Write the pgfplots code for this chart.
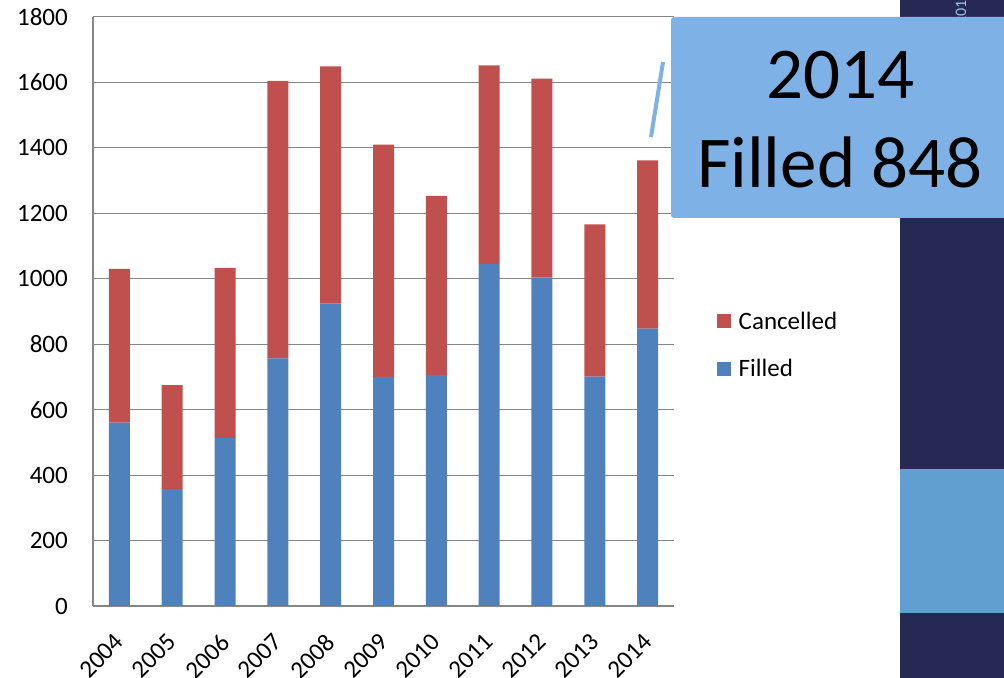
\documentclass[border=0pt]{standalone}
\usepackage{pgfplots}
\pgfplotsset{compat=1.18}
\usepackage{pgfplotstable}
\usepackage{fontspec}
\setmainfont{Carlito}
\definecolor{blueF}{HTML}{4F81BD}
\definecolor{redC}{HTML}{C0504D}
\definecolor{gridgray}{HTML}{868686}
\definecolor{navy}{HTML}{262953}
\definecolor{lblue}{HTML}{629FD1}
\definecolor{callout}{HTML}{7EB1E5}
\definecolor{paneltext}{HTML}{9DC3E6}
\pgfplotstableread{
x filled cancelled
0 560 470
1 357 318
2 513 520
3 757 848
4 925 724
5 700 710
6 706 547
7 1045 607
8 1004 608
9 701 465
10 848 514
}\datatable
\begin{document}
\begin{tikzpicture}[x=1bp,y=1bp]
\path[use as bounding box] (0,0) rectangle (1004,678);
% right decorative panel
\fill[navy] (900,0) rectangle (1004,678);
\fill[lblue] (900,65) rectangle (1004,209);
\node[rotate=90, anchor=base west, text=paneltext, font=\fontsize{16bp}{19bp}\selectfont, inner sep=0pt] at (966,653) {2014};
\begin{axis}[
  at={(93bp,72bp)}, anchor=south west,
  scale only axis, width=581bp, height=589bp,
  ybar stacked, bar width=21bp,
  xmin=-0.5, xmax=10.5, ymin=0, ymax=1800,
  ytick={0,200,...,1800},
  xtick={0,...,10},
  xticklabels={2004,2005,2006,2007,2008,2009,2010,2011,2012,2013,2014},
  axis x line*=bottom, axis y line*=left,
  axis line style={draw=gridgray, line width=1.2bp},
  ymajorgrids, grid style={draw=gridgray, line width=1bp},
  tick style={draw=none},
  /pgf/number format/1000 sep={},
  /pgf/number format/assume math mode=true,
  every tick label/.append style={font=\fontsize{25bp}{30bp}\selectfont},
  yticklabel style={anchor=east, inner sep=0pt, xshift=-25bp},
  xticklabel style={xshift=-6bp, yshift=-26bp, rotate=45, anchor=north east, inner sep=0pt},
  reverse legend,
  legend cell align=left,
  legend style={at={(1.068,0.443)}, anchor=west, draw=none, fill=none,
    font=\fontsize{25bp}{30bp}\selectfont, row sep=25bp, column sep=6bp},
  legend image code/.code={\fill[#1] (0bp,-7bp) rectangle (14bp,7bp);},
]
\addplot[fill=blueF, draw=none] table[x=x, y=filled]{\datatable};
\addlegendentry{Filled}
\addplot[fill=redC, draw=none] table[x=x, y=cancelled]{\datatable};
\addlegendentry{Cancelled}
\end{axis}
% callout
\draw[callout, line width=4bp] (663,616) -- (651,541);
\fill[callout, rounded corners=3bp] (671,460) rectangle (1015,661);
\node[anchor=base, inner sep=0pt, font=\fontsize{73bp}{89bp}\selectfont] at (840,579) {2014};
\node[anchor=base, inner sep=0pt, font=\fontsize{73bp}{89bp}\selectfont] at (840,490) {Filled 848};
\end{tikzpicture}
\end{document}
